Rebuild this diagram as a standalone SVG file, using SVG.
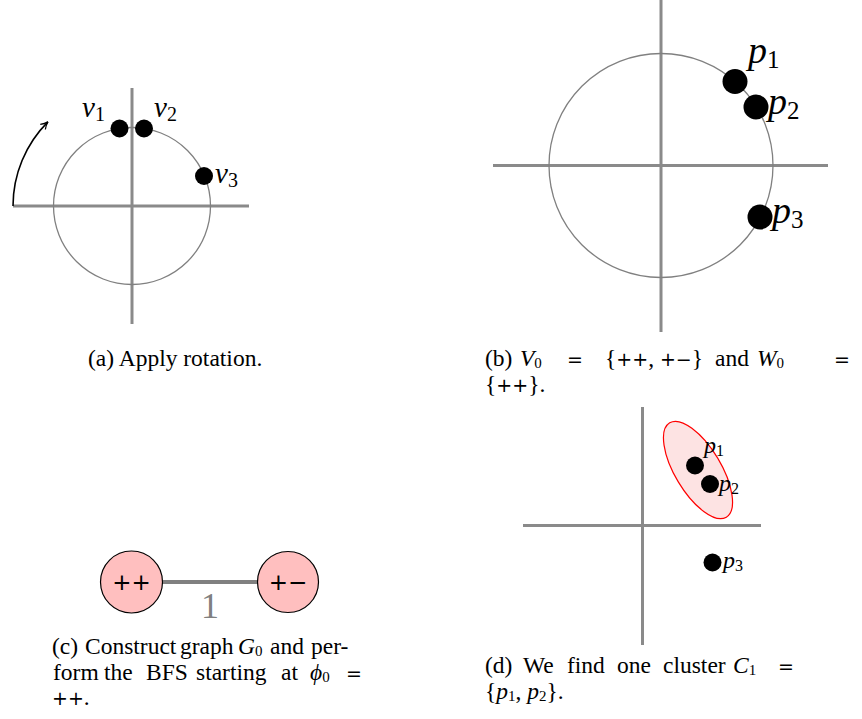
<svg xmlns="http://www.w3.org/2000/svg" width="862" height="719" viewBox="0 0 862 719">
<style>
.axis{stroke:#8a8a8a;stroke-width:3;fill:none}
.circ{stroke:#808080;stroke-width:1.3;fill:none}
.dot{fill:#000}
.cap{font-family:"Liberation Serif",serif;font-size:23.5px;fill:#000}
.m{font-family:"Liberation Serif","DejaVu Serif",serif;font-style:italic}
.op{font-family:"DejaVu Sans",sans-serif;font-size:19px}
.sub{font-size:15px}
.lbl{font-family:"Liberation Serif",serif;fill:#000}
.node{fill:#ffbfbf;stroke:#000;stroke-width:1.2}
</style>
<defs>
<marker id="arr" viewBox="0 0 10 10" refX="9" refY="5" markerWidth="9" markerHeight="9" markerUnits="userSpaceOnUse" orient="auto">
<path d="M1,1 Q5,4 9,5 Q5,6 1,9" fill="none" stroke="#000" stroke-width="1.4"/>
</marker>
</defs>

<!-- Panel (a) -->
<g id="panel-a">
<line class="axis" x1="13" y1="206" x2="249" y2="206"/>
<line class="axis" x1="132" y1="88" x2="132" y2="324"/>
<circle class="circ" cx="132" cy="206" r="78.5"/>
<g id="v1"><circle class="dot" cx="119.5" cy="128.5" r="9"/><text class="lbl m" x="82" y="117" font-size="29">v<tspan font-style="normal" font-size="20" dy="4">1</tspan></text></g>
<g id="v2"><circle class="dot" cx="144" cy="128.5" r="9"/><text class="lbl m" x="154" y="117" font-size="29">v<tspan font-style="normal" font-size="20" dy="4">2</tspan></text></g>
<g id="v3"><circle class="dot" cx="204" cy="176" r="9"/><text class="lbl m" x="215" y="183" font-size="29">v<tspan font-style="normal" font-size="20" dy="4">3</tspan></text></g>
</g>

<!-- Panel (b) -->
<g id="panel-b">
<line class="axis" x1="493" y1="165.5" x2="828" y2="165.5"/>
<line class="axis" x1="661" y1="0" x2="661" y2="332"/>
<circle class="circ" cx="661" cy="165.5" r="112"/>
<g id="p1b"><circle class="dot" cx="735" cy="81.5" r="12.5"/><text class="lbl m" x="748" y="63" font-size="38">p<tspan font-style="normal" font-size="25" dy="5">1</tspan></text></g>
<g id="p2b"><circle class="dot" cx="756" cy="107" r="12.5"/><text class="lbl m" x="768" y="114" font-size="38">p<tspan font-style="normal" font-size="25" dy="5">2</tspan></text></g>
<g id="p3b"><circle class="dot" cx="760" cy="217" r="12.5"/><text class="lbl m" x="772" y="223" font-size="38">p<tspan font-style="normal" font-size="25" dy="5">3</tspan></text></g>
</g>

<!-- Panel (d) -->
<g id="panel-d">
<line class="axis" x1="523" y1="525.5" x2="761" y2="525.5"/>
<line class="axis" x1="642.5" y1="407" x2="642.5" y2="645"/>
<g id="cluster-C1"><ellipse cx="698" cy="470" rx="55" ry="23" transform="rotate(59 698 470)" fill="#fde3e3" stroke="#ff0000" stroke-width="1.2"/></g>
<g id="p1d"><circle class="dot" cx="695" cy="465.5" r="9"/><text class="lbl m" x="704" y="453" font-size="24">p<tspan font-style="normal" font-size="16" dy="3">1</tspan></text></g>
<g id="p2d"><circle class="dot" cx="710" cy="484" r="9"/><text class="lbl m" x="719" y="491" font-size="24">p<tspan font-style="normal" font-size="16" dy="3">2</tspan></text></g>
<g id="p3d"><circle class="dot" cx="712.5" cy="562.5" r="9"/><text class="lbl m" x="723" y="568" font-size="24">p<tspan font-style="normal" font-size="16" dy="3">3</tspan></text></g>
</g>

<!-- Connectors -->
<g id="connectors">
<path d="M13,206 A119,119 0 0 1 47.9,121.9" fill="none" stroke="#000" stroke-width="1.6" marker-end="url(#arr)"/>
<line x1="162" y1="582" x2="258" y2="582" stroke="#808080" stroke-width="4"/>
<text class="lbl" x="210" y="618" font-size="36" text-anchor="middle" style="fill:#808080">1</text>
</g>

<!-- Panel (c) nodes -->
<g id="node-pp"><circle class="node" cx="131.5" cy="582" r="31"/><text x="131.5" y="590" font-family="DejaVu Sans, sans-serif" font-size="23" text-anchor="middle">++</text></g>
<g id="node-pm"><circle class="node" cx="288" cy="582" r="30.5"/><text x="288" y="590" font-family="DejaVu Sans, sans-serif" font-size="23" text-anchor="middle">+−</text></g>

<!-- Captions -->
<g id="caption-a"><text class="cap" x="88" y="366">(a) Apply rotation.</text></g>
<g id="caption-b">
<text class="cap" x="485" y="366">(b)</text>
<text class="cap" x="520" y="366"><tspan class="m">V</tspan><tspan class="sub" dy="2">0</tspan></text>
<text class="cap op" x="567" y="366">=</text>
<text class="cap" x="605" y="366">{<tspan class="op">++</tspan>, <tspan class="op">+−</tspan>}</text>
<text class="cap" x="715" y="366">and</text>
<text class="cap" x="757" y="366"><tspan class="m">W</tspan><tspan class="sub" dy="2">0</tspan></text>
<text class="cap op" x="834" y="366">=</text>
<text class="cap" x="485" y="392">{<tspan class="op">++</tspan>}.</text>
</g>
<g id="caption-c">
<text class="cap" x="52" y="654">(c)</text>
<text class="cap" x="85" y="654">Construct</text>
<text class="cap" x="180" y="654">graph</text>
<text class="cap" x="238" y="654"><tspan class="m">G</tspan><tspan class="sub" dy="2">0</tspan></text>
<text class="cap" x="270" y="654">and</text>
<text class="cap" x="311" y="654">per-</text>
<text class="cap" x="53" y="680">form</text>
<text class="cap" x="104" y="680">the</text>
<text class="cap" x="146" y="680">BFS</text>
<text class="cap" x="196" y="680">starting</text>
<text class="cap" x="281" y="680">at</text>
<text class="cap" x="310" y="680"><tspan class="m">ϕ</tspan><tspan class="sub" dy="2">0</tspan></text>
<text class="cap op" x="346" y="680">=</text>
<text class="cap" x="52" y="705"><tspan class="op">++</tspan>.</text>
</g>
<g id="caption-d">
<text class="cap" x="485" y="673">(d)</text>
<text class="cap" x="523" y="673">We</text>
<text class="cap" x="567" y="673">find</text>
<text class="cap" x="617" y="673">one</text>
<text class="cap" x="663" y="673">cluster</text>
<text class="cap" x="733" y="673"><tspan class="m">C</tspan><tspan class="sub" dy="2">1</tspan></text>
<text class="cap op" x="778" y="673">=</text>
<text class="cap" x="485" y="699">{<tspan class="m">p</tspan><tspan class="sub" dy="2">1</tspan><tspan dy="-2">, </tspan><tspan class="m">p</tspan><tspan class="sub" dy="2">2</tspan><tspan dy="-2">}.</tspan></text>
</g>
</svg>
